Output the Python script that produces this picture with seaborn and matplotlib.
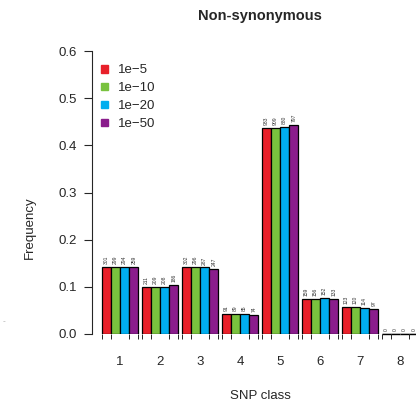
import numpy as np
import pandas as pd
import matplotlib
matplotlib.use("Agg")
import matplotlib.pyplot as plt
import seaborn as sns

classes = ["1", "2", "3", "4", "5", "6", "7", "8"]
thresholds = ["1e\u22125", "1e\u221210", "1e\u221220", "1e\u221250"]
freq_1e5 = [0.142, 0.099, 0.143, 0.043, 0.437, 0.075, 0.058, 0.0]
freq_1e10 = [0.142, 0.099, 0.142, 0.043, 0.437, 0.075, 0.058, 0.0]
freq_1e20 = [0.142, 0.100, 0.141, 0.042, 0.439, 0.076, 0.056, 0.0]
freq_1e50 = [0.142, 0.104, 0.138, 0.041, 0.444, 0.074, 0.054, 0.0]
counts_1e5 = [301, 211, 302, 91, 933, 159, 123, 0]
counts_1e10 = [299, 209, 296, 89, 909, 156, 120, 0]
counts_1e20 = [294, 208, 287, 85, 880, 152, 114, 0]
counts_1e50 = [259, 186, 247, 74, 797, 133, 97, 0]
colors = ["#E8202A", "#79C23E", "#00AEEF", "#8A1D8C"]

all_freqs = [freq_1e5, freq_1e10, freq_1e20, freq_1e50]
all_counts = [counts_1e5, counts_1e10, counts_1e20, counts_1e50]
rows = []
for th, fs, cs in zip(thresholds, all_freqs, all_counts):
    for c, f, n in zip(classes, fs, cs):
        rows.append({"cls": c, "thr": th, "count": n, "freq": f})
df = pd.DataFrame(rows)

sns.set_style("ticks")
plt.rcParams["font.family"] = ["Liberation Sans", "DejaVu Sans"]

fig = plt.figure(figsize=(4.16, 4.08), dpi=100)
ax = fig.add_axes([92 / 416, 74 / 408, 328 / 416, 283 / 408])
sns.barplot(data=df, x="cls", y="freq", hue="thr", order=classes,
            hue_order=thresholds, palette=colors, width=0.92,
            edgecolor="black", linewidth=0.9, saturation=1, ax=ax,
            legend=True)

ax.set_xlim(-0.7, 7.5)
ax.set_ylim(0, 0.6)
ax.set_yticks(np.arange(0, 0.61, 0.1))
ax.set_yticklabels([f"{v:.1f}" for v in np.arange(0, 0.61, 0.1)], fontsize=9.5)
ax.set_xticks(range(len(classes)))
ax.set_xticklabels(classes, fontsize=9.5)
ax.tick_params(axis="x", length=0, pad=16)
ax.tick_params(axis="y", length=6, width=0.8, direction="out", pad=5)
for s in ["top", "right", "bottom"]:
    ax.spines[s].set_visible(False)
ax.spines["left"].set_linewidth(0.8)
ax.set_xlabel("")
ax.set_ylabel("")

# count labels, zero-height bars and small edge ticks
edges = []
for container, cs in zip(ax.containers, all_counts):
    for patch, n in zip(container.patches, cs):
        x0 = patch.get_x()
        w = patch.get_width()
        h = patch.get_height()
        ax.text(x0 + w / 2, h + 0.006, str(n), rotation=90, ha="center",
                va="bottom", fontsize=3.6, color="#333333")
        if h == 0:
            ax.plot([x0, x0 + w], [0, 0], color="black", lw=1.0,
                    solid_capstyle="butt", clip_on=False)
        edges.extend([x0, x0 + w])
ax.set_xticks(sorted(set(np.round(edges, 4))), minor=True)
ax.tick_params(axis="x", which="minor", length=3.5, width=0.7, direction="out")

leg = ax.get_legend()
leg.remove()
handles = [plt.Rectangle((0, 0), 1, 1, color=c) for c in colors]
ax.legend(handles, thresholds, loc="upper left", bbox_to_anchor=(0.0, 0.985),
          frameon=False, fontsize=9.5, handlelength=0.5, handleheight=0.5,
          handletextpad=0.8, labelspacing=0.45, borderaxespad=0.3)

fig.text(260 / 416, 1 - 16 / 408, "Non-synonymous", ha="center", va="center",
         fontsize=10.5, fontweight="bold")
fig.text(260 / 416, 1 - 396 / 408, "SNP class", ha="center", va="center",
         fontsize=9.5)
fig.text(30 / 416, 1 - 228 / 408, "Frequency", ha="center", va="center",
         rotation=90, fontsize=9.5)
fig.text(4 / 416, 1 - 322 / 408, "\u2010", ha="center", va="center",
         fontsize=6, color="#aaaaaa")

fig.savefig("out.png", dpi=100)
